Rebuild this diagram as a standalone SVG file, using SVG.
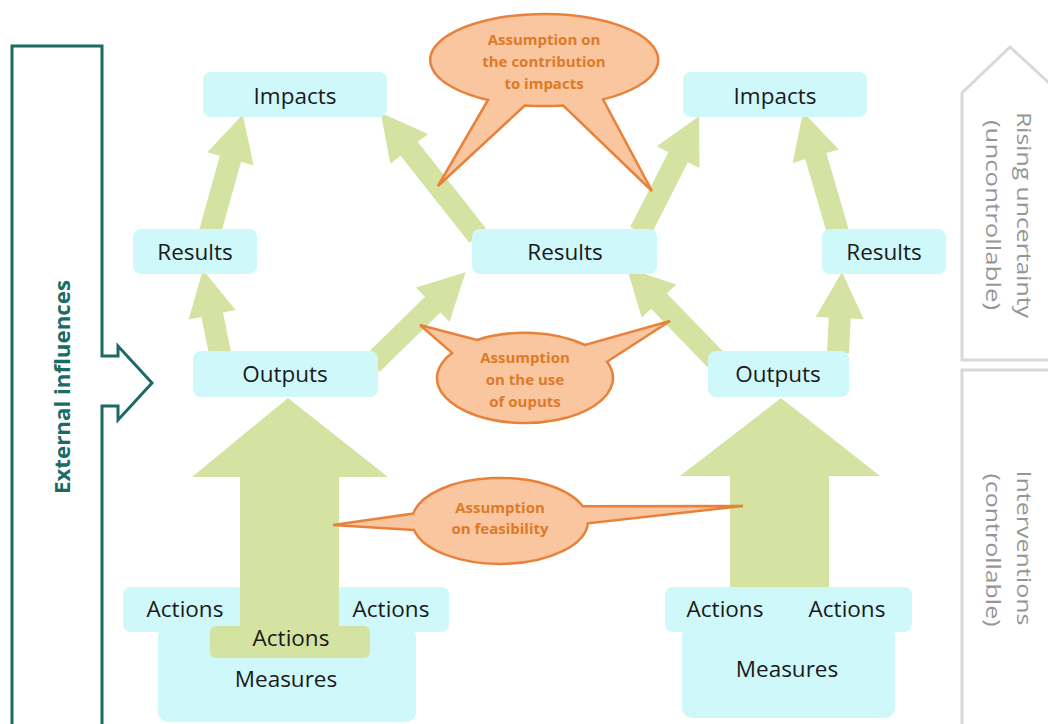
<svg xmlns="http://www.w3.org/2000/svg" width="1048" height="724" viewBox="0 0 1048 724">
<style>
.box{fill:#cff8fb}
.lbl{font-family:"Open Sans",sans-serif;font-size:22.5px;fill:#1a1a1a;text-anchor:middle;dominant-baseline:central}
.arr{fill:#d4e3a1}
.call{fill:#f9c6a0;stroke:#e8813a;stroke-width:2.5;stroke-linejoin:miter}
.ctx{font-family:"Open Sans",sans-serif;font-weight:bold;font-size:15px;fill:#dd7a28;text-anchor:middle;dominant-baseline:central}
.side{font-family:"Open Sans",sans-serif;font-size:20px;fill:#959595;text-anchor:middle;dominant-baseline:central}
.frame{fill:none;stroke:#d9d9d9;stroke-width:3}
</style>
<rect width="1048" height="724" fill="#ffffff"/>

<g id="external-influences">
<path d="M12,724 V46 H102 V356 H118 V346 L152,383 L118,420 V406 H102 V724" fill="none" stroke="#1b6b65" stroke-width="3"/>
<text x="62" y="387" transform="rotate(-90 62 387)" font-family="'Open Sans',sans-serif" font-weight="bold" font-size="21px" fill="#1b6b65" text-anchor="middle" dominant-baseline="central" textLength="214" lengthAdjust="spacingAndGlyphs">External influences</text>
</g>

<g id="rising-uncertainty">
<path class="frame" d="M1060,360 H962 V93 L1010,47 L1060,93"/>
<text class="side" x="1024" y="215" transform="rotate(90 1024 215)" textLength="206" lengthAdjust="spacingAndGlyphs">Rising uncertainty</text>
<text class="side" x="993" y="215" transform="rotate(90 993 215)" textLength="190" lengthAdjust="spacingAndGlyphs">(uncontrollable)</text>
</g>
<g id="interventions">
<path class="frame" d="M1060,370 H962 V730"/>
<text class="side" x="1024" y="548" transform="rotate(90 1024 548)" textLength="155" lengthAdjust="spacingAndGlyphs">Interventions</text>
<text class="side" x="993" y="550" transform="rotate(90 993 550)" textLength="153" lengthAdjust="spacingAndGlyphs">(controllable)</text>
</g>

<g id="connectors">
<path class="arr" transform="translate(220,353) rotate(-101.6)" d="M0,-11H39V-24L85,0L39,24V11H0Z"/>
<path class="arr" transform="translate(210,232) rotate(-74.4)" d="M0,-11H76V-24L122,0L76,24V11H0Z"/>
<path class="arr" transform="translate(372,364) rotate(-44.4)" d="M0,-11H85V-24L131,0L85,24V11H0Z"/>
<path class="arr" transform="translate(478,236) rotate(-128.3)" d="M0,-11H111V-24L157,0L111,24V11H0Z"/>
<path class="arr" transform="translate(640,232) rotate(-63)" d="M0,-11H84V-24L130,0L84,24V11H0Z"/>
<path class="arr" transform="translate(716,360) rotate(-134.1)" d="M0,-11H82V-24L128,0L82,24V11H0Z"/>
<path class="arr" transform="translate(838,353) rotate(-87.2)" d="M0,-11H35V-24L81,0L35,24V11H0Z"/>
<path class="arr" transform="translate(838,232) rotate(-106.3)" d="M0,-11H79V-24L125,0L79,24V11H0Z"/>
</g>

<g id="impacts-left"><rect class="box" x="203" y="72" width="184" height="45" rx="8"/><text class="lbl" x="295" y="95">Impacts</text></g>
<g id="impacts-right"><rect class="box" x="683" y="72" width="184" height="45" rx="8"/><text class="lbl" x="775" y="95">Impacts</text></g>
<g id="results-left"><rect class="box" x="133" y="229" width="124" height="45" rx="8"/><text class="lbl" x="195" y="251">Results</text></g>
<g id="results-middle"><rect class="box" x="472" y="229" width="185" height="45" rx="8"/><text class="lbl" x="565" y="251">Results</text></g>
<g id="results-right"><rect class="box" x="822" y="229" width="124" height="45" rx="8"/><text class="lbl" x="884" y="251">Results</text></g>
<g id="outputs-left"><rect class="box" x="193" y="351" width="185" height="46" rx="8"/><text class="lbl" x="285" y="373">Outputs</text></g>
<g id="outputs-right"><rect class="box" x="708" y="351" width="141" height="46" rx="8"/><text class="lbl" x="778" y="373">Outputs</text></g>

<g id="measures-left">
<rect class="box" x="158" y="626" width="258" height="96" rx="10"/>
<rect class="box" x="123" y="587" width="125" height="45" rx="8"/>
<rect class="box" x="334" y="587" width="115" height="45" rx="8"/>
<path class="arr" d="M288,398 L388,477 H339 V640 H240 V477 H192 Z"/>
<rect class="arr" x="210" y="626" width="160" height="32" rx="6"/>
<text class="lbl" x="185" y="608">Actions</text>
<text class="lbl" x="391" y="608">Actions</text>
<text class="lbl" x="291" y="637">Actions</text>
<text class="lbl" x="286" y="678">Measures</text>
</g>

<g id="measures-right">
<path class="arr" d="M781,398 L880,476 H829 V592 H730 V476 H680 Z"/>
<rect class="box" x="682" y="626" width="213" height="92" rx="10"/>
<rect class="box" x="665" y="587" width="247" height="45" rx="8"/>
<text class="lbl" x="725" y="608">Actions</text>
<text class="lbl" x="847" y="608">Actions</text>
<text class="lbl" x="787" y="668">Measures</text>
</g>

<g id="assumption-impacts">
<path class="call" d="M488,100 L438,186 L525,105.4 A114,46 0 0,0 563,105.4 L652,191 L603,99.4 A114,46 0 1,0 488,100 Z"/>
<text class="ctx" x="544" y="39">Assumption on</text>
<text class="ctx" x="544" y="61">the contribution</text>
<text class="ctx" x="544" y="83">to impacts</text>
</g>

<g id="assumption-use">
<path class="call" d="M452,352.9 L420,325 L477,340 A88,45 0 0,1 585,345 L670,321 L607,361.7 A88,45 0 1,1 452,352.9 Z"/>
<text class="ctx" x="525" y="357">Assumption</text>
<text class="ctx" x="525" y="379">on the use</text>
<text class="ctx" x="525" y="401">of ouputs</text>
</g>

<g id="assumption-feasibility">
<path class="call" d="M414,530 L333,525 L413.3,513.5 A88,43 0 0,1 582.7,506.3 L743,506 L587.9,523.3 A88,43 0 0,1 414,530 Z"/>
<text class="ctx" x="500" y="507">Assumption</text>
<text class="ctx" x="500" y="528">on feasibility</text>
</g>
</svg>
